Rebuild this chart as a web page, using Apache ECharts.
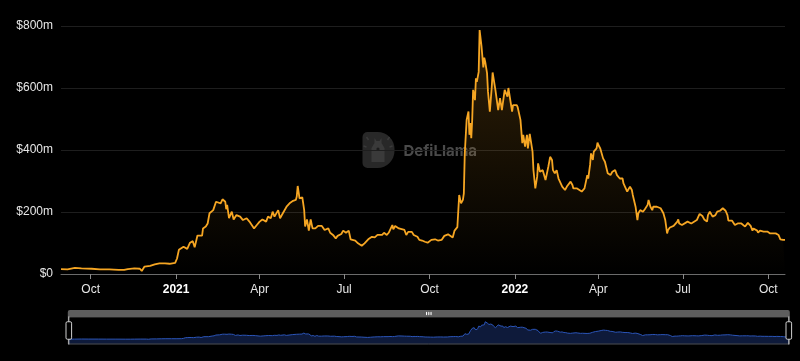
<!DOCTYPE html>
<html>
<head>
<meta charset="utf-8">
<script src="https://cdn.jsdelivr.net/npm/echarts@6/dist/echarts.min.js"></script>
<style>
html,body{margin:0;padding:0;background:#000;}
#c{width:800px;height:361px;}
</style>
</head>
<body>
<div id="c"></div>
<script>
var dates = ['2020-08-30','2020-09-06','2020-09-14','2020-09-21','2020-10-02','2020-10-11','2020-10-21','2020-10-31','2020-11-06','2020-11-10','2020-11-17','2020-11-23','2020-11-25','2020-11-28','2020-12-04','2020-12-09','2020-12-14','2020-12-20','2020-12-25','2020-12-31',
'2021-01-02','2021-01-04','2021-01-06','2021-01-09','2021-01-11','2021-01-13','2021-01-16','2021-01-19','2021-01-21','2021-01-24','2021-01-29','2021-01-30','2021-02-02','2021-02-04','2021-02-06','2021-02-10','2021-02-13','2021-02-15','2021-02-18','2021-02-20','2021-02-23','2021-02-24','2021-02-25','2021-02-27',
'2021-03-02','2021-03-04','2021-03-07','2021-03-11','2021-03-14','2021-03-18','2021-03-21','2021-03-26','2021-03-29','2021-04-01','2021-04-04','2021-04-08','2021-04-10','2021-04-13','2021-04-15','2021-04-17','2021-04-21','2021-04-23','2021-04-26','2021-04-30',
'2021-05-04','2021-05-07','2021-05-10','2021-05-11','2021-05-12','2021-05-14','2021-05-17','2021-05-19','2021-05-20','2021-05-22','2021-05-24','2021-05-26','2021-05-28','2021-05-31','2021-06-03','2021-06-07','2021-06-10','2021-06-14','2021-06-16','2021-06-19','2021-06-22','2021-06-24','2021-06-28','2021-06-30',
'2021-07-03','2021-07-06','2021-07-08','2021-07-13','2021-07-16','2021-07-20','2021-07-23','2021-07-27','2021-07-31','2021-08-03','2021-08-06','2021-08-11','2021-08-13','2021-08-16','2021-08-18','2021-08-22','2021-08-23','2021-08-25','2021-08-29','2021-08-31',
'2021-09-04','2021-09-06','2021-09-08','2021-09-10','2021-09-12','2021-09-14','2021-09-18','2021-09-20','2021-09-23','2021-09-26','2021-09-29','2021-10-03','2021-10-07','2021-10-10','2021-10-14','2021-10-17','2021-10-21','2021-10-23','2021-10-26','2021-10-28','2021-10-31',
'2021-11-02','2021-11-04','2021-11-06','2021-11-07','2021-11-08','2021-11-10','2021-11-12','2021-11-13','2021-11-14','2021-11-15','2021-11-16','2021-11-17','2021-11-19','2021-11-20','2021-11-21','2021-11-23','2021-11-24','2021-11-26','2021-11-28','2021-11-29','2021-11-30',
'2021-12-02','2021-12-03','2021-12-05','2021-12-07','2021-12-08','2021-12-11','2021-12-13','2021-12-14','2021-12-16','2021-12-18','2021-12-19','2021-12-21','2021-12-24','2021-12-25','2021-12-27','2021-12-29','2021-12-30',
'2022-01-01','2022-01-03','2022-01-04','2022-01-07','2022-01-09','2022-01-10','2022-01-12','2022-01-14','2022-01-15','2022-01-17','2022-01-20','2022-01-21','2022-01-23','2022-01-25','2022-01-26','2022-01-28','2022-01-30','2022-01-31',
'2022-02-03','2022-02-05','2022-02-06','2022-02-08','2022-02-10','2022-02-11','2022-02-13','2022-02-15','2022-02-17','2022-02-19','2022-02-21','2022-02-22','2022-02-24','2022-02-26','2022-02-27',
'2022-03-02','2022-03-04','2022-03-05','2022-03-07','2022-03-09','2022-03-10','2022-03-14','2022-03-17','2022-03-20','2022-03-21','2022-03-23','2022-03-24','2022-03-26','2022-03-27','2022-03-30','2022-03-31',
'2022-04-01','2022-04-03','2022-04-05','2022-04-06','2022-04-08','2022-04-10','2022-04-11','2022-04-14','2022-04-16','2022-04-17','2022-04-19','2022-04-21','2022-04-22','2022-04-24','2022-04-27','2022-04-28','2022-04-30',
'2022-05-02','2022-05-03','2022-05-05','2022-05-07','2022-05-08','2022-05-11','2022-05-13','2022-05-14','2022-05-16','2022-05-18','2022-05-19','2022-05-21','2022-05-24','2022-05-25','2022-05-27','2022-05-29','2022-05-30',
'2022-06-01','2022-06-03','2022-06-04','2022-06-07','2022-06-09','2022-06-10','2022-06-12','2022-06-14','2022-06-15','2022-06-17','2022-06-19','2022-06-21','2022-06-23','2022-06-25','2022-06-26','2022-06-27','2022-06-30',
'2022-07-02','2022-07-06','2022-07-07','2022-07-10','2022-07-12','2022-07-16','2022-07-19','2022-07-22','2022-07-24','2022-07-27','2022-07-28','2022-07-30',
'2022-08-02','2022-08-03','2022-08-05','2022-08-07','2022-08-08','2022-08-10','2022-08-13','2022-08-16','2022-08-18','2022-08-19','2022-08-23','2022-08-24','2022-08-26','2022-08-29',
'2022-09-02','2022-09-04','2022-09-06','2022-09-08','2022-09-09','2022-09-12','2022-09-14','2022-09-15','2022-09-17','2022-09-19','2022-09-20','2022-09-22','2022-09-26','2022-09-30',
'2022-10-03','2022-10-05','2022-10-09','2022-10-12','2022-10-14','2022-10-17','2022-10-19'];

var tvl = [16,15,20,18,17,15,15,13,13,16,18,17,10,24,26,31,34,34,33,36,
50,78,83,88,86,81,101,106,86,124,124,147,153,163,196,206,233,236,228,241,233,209,223,180,
201,176,190,185,174,180,169,147,158,169,176,169,185,180,201,185,206,180,196,217,
230,236,239,250,284,244,247,206,153,176,140,176,147,147,155,155,142,147,133,126,115,123,129,140,
133,140,112,108,99,91,99,112,120,118,126,126,133,126,133,158,144,155,147,144,
142,126,136,131,136,126,120,110,108,104,101,110,112,108,110,123,128,131,118,140,151,
255,228,239,260,389,497,524,449,487,438,497,594,561,631,620,652,787,736,666,698,685,
648,589,524,600,650,594,594,529,567,529,524,594,572,600,594,524,545,
542,545,538,497,422,449,411,449,405,452,395,335,276,314,357,330,330,335,
303,298,346,378,368,335,325,335,308,303,282,287,271,282,276,
298,287,276,271,276,271,266,276,319,308,352,389,368,395,405,424,
416,405,400,373,362,357,325,319,330,325,335,319,325,308,308,292,287,
266,271,282,271,255,217,174,196,206,206,201,209,223,239,217,206,217,
212,217,223,212,212,196,174,131,142,150,148,155,161,169,176,163,158,
158,169,172,163,158,174,194,187,176,169,190,201,
185,180,190,201,196,204,212,204,190,172,172,174,158,163,
163,165,153,158,165,155,140,147,147,140,133,140,137,137,
131,137,131,126,112,110,110];

var tickDates = ['2020-10-01','2021-01-01','2021-04-01','2021-07-01','2021-10-01','2022-01-01','2022-04-01','2022-07-01','2022-10-01'];
var tickLabels = ['Oct','2021','Apr','Jul','Oct','2022','Apr','Jul','Oct'];
var axisStart = '2020-08-30';
var axisEnd = '2022-10-19';

function parseT(s){
  if (echarts.time && echarts.time.parse) return +echarts.time.parse(s);
  var p = s.split('-'); return +new Date(+p[0], +p[1]-1, +p[2]);
}
var tickTimes = tickDates.map(parseT);
var seriesData = dates.map(function(d,i){ return [d, tvl[i]]; });
var DAY = 86400000;

var chart = echarts.init(document.getElementById('c'), null, {renderer:'canvas'});
var orange = '#f6a623';
var wm = '#3a3a3a';
var option = {
  backgroundColor: '#000',
  animation: false,
  grid: {left: 61, right: 15, top: 26, bottom: 87},
  xAxis: {
    type: 'time',
    min: axisStart,
    max: axisEnd,
    boundaryGap: false,
    splitNumber: 8,
    minInterval: 95 * DAY,
    maxInterval: 95 * DAY,
    axisLine: {show: true, lineStyle: {color: '#6b6b6b', width: 1}},
    axisTick: {show: true, length: 5, lineStyle: {color: '#8a8a8a'}},
    splitLine: {show: false},
    axisLabel: {
      showMinLabel: false,
      showMaxLabel: false,
      color: '#e6e6e6',
      fontSize: 12,
      fontFamily: 'Liberation Sans, Arial, sans-serif',
      margin: 10,
      formatter: function(v){
        var idx = -1;
        for (var i=0;i<tickTimes.length;i++){ if (Math.abs(tickTimes[i]-v) < DAY) { idx = i; break; } }
        if (idx < 0) return '';
        var t = tickLabels[idx];
        return /^\d{4}$/.test(t) ? '{b|' + t + '}' : t;
      },
      rich: {b: {fontWeight: 'bold', color: '#ffffff', fontSize: 12, fontFamily: 'Liberation Sans, Arial, sans-serif'}}
    }
  },
  yAxis: {
    type: 'value',
    min: 0, max: 800, interval: 200,
    axisLine: {show: false},
    axisTick: {show: false},
    splitLine: {show: true, lineStyle: {color: '#1e1e1e', width: 1}},
    axisLabel: {
      color: '#e6e6e6', fontSize: 12, margin: 8,
      fontFamily: 'Liberation Sans, Arial, sans-serif',
      formatter: function(v){ return v === 0 ? '$0' : '$' + v + 'm'; }
    }
  },
  dataZoom: [{
    type: 'slider',
    xAxisIndex: 0,
    left: 65, right: 13, bottom: 23, height: 28,
    start: 0, end: 100,
    showDetail: false,
    brushSelect: true,
    borderColor: '#4a4a4a',
    backgroundColor: 'rgba(0,0,0,0)',
    fillerColor: 'rgba(0,0,0,0)',
    handleSize: '100%',
    handleStyle: {color: '#000', borderColor: '#d0d0d0', borderWidth: 1},
    moveHandleSize: 7,
    moveHandleStyle: {color: '#5e5e5e', opacity: 1},
    dataBackground: {
      lineStyle: {color: '#2b55b8', width: 1, opacity: 1},
      areaStyle: {color: '#0e1a3a', opacity: 1}
    },
    selectedDataBackground: {
      lineStyle: {color: '#2b55b8', width: 1, opacity: 1},
      areaStyle: {color: '#0e1a3a', opacity: 1}
    }
  }],
  graphic: [{
    type: 'group',
    left: 361, top: 132,
    silent: true,
    children: [
      {type: 'rect', shape: {x: 0, y: 0, width: 32, height: 36, r: [5, 17, 17, 5]}, style: {fill: '#282828'}},
      {type: 'polygon', shape: {points: [[9,30],[9,16],[12,11],[12,6],[14,9],[17,9],[19,6],[19,11],[22,16],[22,30]]}, style: {fill: wm}},
      {type: 'circle', shape: {cx: 15.5, cy: 17, r: 1.6}, style: {fill: '#1c1c1c'}},
      {type: 'line', shape: {x1: 25, y1: 8, x2: 27, y2: 5}, style: {stroke: wm, lineWidth: 1.5}},
      {type: 'line', shape: {x1: 27, y1: 15, x2: 30, y2: 14}, style: {stroke: wm, lineWidth: 1.5}},
      {type: 'line', shape: {x1: 6, y1: 8, x2: 4, y2: 5}, style: {stroke: wm, lineWidth: 1.5}},
      {type: 'line', shape: {x1: 4, y1: 15, x2: 1, y2: 14}, style: {stroke: wm, lineWidth: 1.5}},
      {type: 'text', x: 41, y: 19, style: {text: 'DefiLlama', fill: '#4a4a4a', font: 'bold 15px Inter, "Noto Sans", sans-serif', verticalAlign: 'middle'}}
    ]
  }],
  series: [{
    type: 'line',
    data: seriesData,
    showSymbol: false,
    symbol: 'none',
    lineStyle: {color: orange, width: 1.8},
    itemStyle: {color: orange},
    areaStyle: {
      color: new echarts.graphic.LinearGradient(0, 0, 0, 1, [
        {offset: 0, color: 'rgba(246,166,35,0.28)'},
        {offset: 1, color: 'rgba(246,166,35,0.0)'}
      ])
    }
  }]
};
chart.setOption(option);
</script>
</body>
</html>
